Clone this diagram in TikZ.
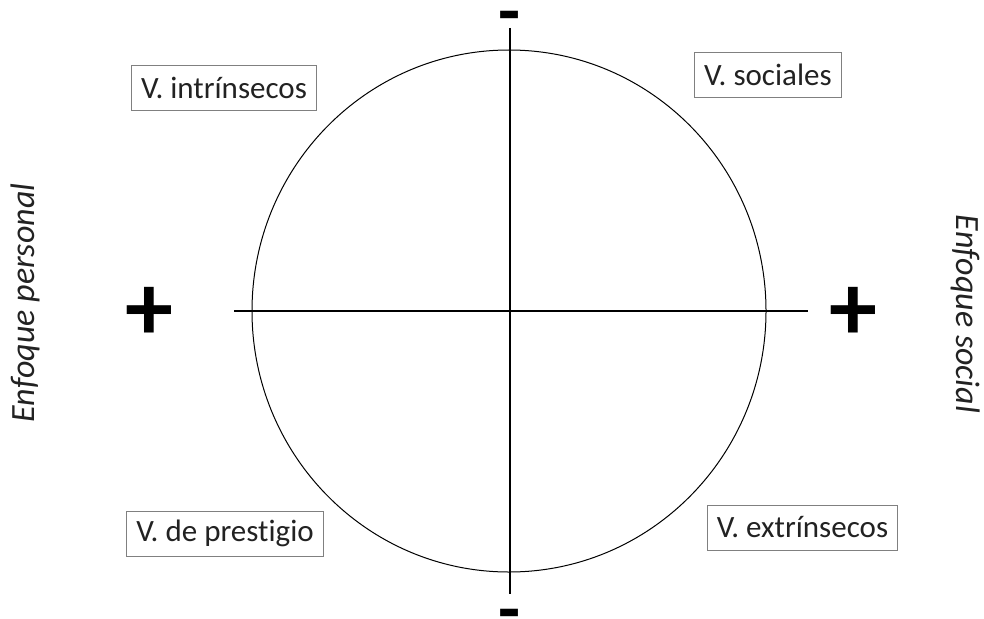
\documentclass[tikz,border=0pt]{standalone}
\usepackage{fontspec}
\setmainfont[Ligatures=NoCommon]{Carlito}
\usepackage{tikz}
\usetikzlibrary{positioning}
\definecolor{borde}{HTML}{808080}
\definecolor{texto}{HTML}{222222}

\begin{document}
\begin{tikzpicture}[
  x=1pt, y=-1pt,
  valor/.style={rectangle, draw=borde, line width=0.8pt, inner xsep=9.5pt,
                minimum height=45pt, text=texto, font=\fontsize{31}{36}\selectfont},
  enfoque/.style={text=texto, font=\fontsize{34}{40}\selectfont\itshape},
  signo/.style={text=black, font=\fontsize{96}{96}\selectfont\bfseries},
  menos/.style={text=black, anchor=base, inner sep=0pt,
                font=\fontsize{72}{72}\selectfont\bfseries},
  eje/.style={line width=2.3pt},
]
  \useasboundingbox (0,0) rectangle (984,618);

  % Circulo
  \coordinate (centro) at (509,311);
  \draw[line width=1pt] (centro) ellipse [x radius=257, y radius=261];

  % Ejes
  \coordinate (izq) at (234,311);
  \coordinate (der) at (808,311);
  \coordinate (arr) at (510,28);
  \coordinate (aba) at (510,594);
  \draw[eje] (izq) -- (der);
  \draw[eje] (arr) -- (aba);

  % Signos
  \node[signo] (masizq) at (149,314) {+};
  \node[signo] (masder) at (853,314) {+};
  \node[menos] (menosarr) at (510,36) {-};
  \node[menos] (menosaba) at (510,633) {-};

  % Valores
  \node[valor] (intrinsecos) at (224,87.5) {V. intrínsecos};
  \node[valor] (sociales) at (768,75) {V. sociales};
  \node[valor] (prestigio) at (225,533.5) {V. de prestigio};
  \node[valor] (extrinsecos) at (802.5,527.5) {V. extrínsecos};

  % Enfoques
  \node[enfoque, rotate=90] (personal) at (25,303) {Enfoque personal};
  \node[enfoque, rotate=-90] (social) at (966,314) {Enfoque social};
\end{tikzpicture}
\end{document}
